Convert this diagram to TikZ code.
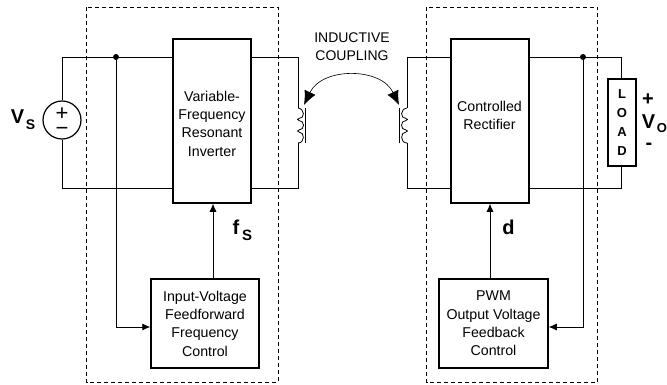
\documentclass[tikz,border=0pt]{standalone}
\usepackage{fontspec}
\setmainfont{Liberation Sans}
\usetikzlibrary{arrows.meta}
\tikzset{%
  wire/.style={line width=0.8pt,line join=miter},
  block/.style={draw,line width=1.5pt,align=center,inner sep=0pt,font=\fontsize{14.2}{18.3}\selectfont},
  blocktext/.style={align=center,inner sep=0pt,font=\fontsize{14.2}{18.3}\selectfont},
  group/.style={draw,line width=0.8pt,dash pattern=on 4pt off 3pt},
  feed/.style={wire,-{Latex[length=8pt,width=7pt]}},
  joint/.style={circle,fill,inner sep=0pt,minimum size=6pt},
  coupling/.style={line width=0.6pt,{Latex[length=14pt,width=12pt]}-{Latex[length=14pt,width=12pt]}},
  caption/.style={font=\fontsize{14}{18}\selectfont,align=center},
  symbol/.style={font=\bfseries\fontsize{#1}{#1}\selectfont,inner sep=0pt},
  symbol/.default=20,
  polarity/.style={inner sep=0pt,align=center,font=\fontsize{22}{14.5}\selectfont}
}
\NewDocumentCommand\coilWinding{}{
  \draw[wire] (0,0) .. controls (7,1) and (7,10.5) .. (1,10.5)
    .. controls (-1,10.5) and (-1,12.5) .. (1,12.5)
    .. controls (7,12.5) and (7,22) .. (1,22)
    .. controls (-1,22) and (-1,24) .. (1,24)
    .. controls (7,24) and (7,35) .. (0,35);
  \draw[wire] (7.6,0) -- (7.6,35);
}
\begin{document}
\begin{tikzpicture}[x=1pt,y=-1pt]
  \useasboundingbox (0,0) rectangle (667,385);
  % Groups
  \draw[group] (86.5,7.5) rectangle (278,382);
  \draw[group] (426.5,7.5) rectangle (597.5,382);
  % Blocks
  \node[block,minimum width=78pt,minimum height=164pt] (inverter) at (212,121) {};
  \node[blocktext] (invertertext) at (212,123.5) {Variable-\\Frequency\\Resonant\\Inverter};
  \node[block,minimum width=78pt,minimum height=164pt] (rectifier) at (490,121) {};
  \node[blocktext] (rectifiertext) at (489.5,115.5) {Controlled\\Rectifier};
  \node[block,minimum width=108pt,minimum height=89pt] (inctrl) at (205,323.5) {Input-Voltage\\Feedforward\\Frequency\\Control};
  \node[block,minimum width=109pt,minimum height=89pt] (outctrl) at (493.5,323.5) {PWM\\Output Voltage\\Feedback\\Control};
  \node[block,minimum width=28pt,minimum height=87pt,font=\bfseries\fontsize{13}{18.7}\selectfont] (load) at (622,122.5) {L\\O\\A\\D};
  \node[draw,circle,line width=1.2pt,minimum size=38pt,inner sep=0pt] (source) at (62,120) {};
  \node[polarity] (srcsign) at (62,121.5) {+\\−};
  % Rail corners
  \coordinate (t0) at (62,57);
  \coordinate (b0) at (62,188);
  \coordinate (t1) at (298,57);
  \coordinate (b1) at (298,188);
  \coordinate (c1) at (298,108);
  \coordinate (d1) at (298,143);
  \coordinate (t2) at (407,57);
  \coordinate (b2) at (407,188);
  \coordinate (c2) at (407,108);
  \coordinate (d2) at (407,143);
  \coordinate (t3) at (621,57);
  \coordinate (b3) at (621,188);
  \node[joint] (jin) at (116,57) {};
  \node[joint] (jout) at (583,57) {};
  % Rails
  \draw[wire] (source) -- (t0) -- (jin) -- (t0 -| inverter.west);
  \draw[wire] (source) -- (b0) -- (b0 -| inverter.west);
  \draw[wire] (t1 -| inverter.east) -- (t1) -- (c1);
  \draw[wire] (d1) -- (b1) -- (b1 -| inverter.east);
  \draw[wire] (t2 -| rectifier.west) -- (t2) -- (c2);
  \draw[wire] (d2) -- (b2) -- (b2 -| rectifier.west);
  \draw[wire] (t3 -| rectifier.east) -- (jout) -- (t3) -- (load.north -| t3);
  \draw[wire] (load.south -| b3) -- (b3) -- (b3 -| rectifier.east);
  % Windings
  \begin{scope}[shift={(c1)}]\coilWinding\end{scope}
  \begin{scope}[shift={(c2)},xscale=-1]\coilWinding\end{scope}
  % Control paths
  \coordinate (k0) at (116,327);
  \coordinate (k1) at (583,327);
  \draw[feed] (jin) -- (k0) -- (k0 -| inctrl.west);
  \draw[feed] (jout) -- (k1) -- (k1 -| outctrl.east);
  \coordinate (u0) at (213,279);
  \coordinate (u1) at (490,279);
  \draw[feed] (u0) -- (u0 |- inverter.south);
  \draw[feed] (u1) -- (u1 |- rectifier.south);
  % Coupling
  \coordinate (a0) at (304,105);
  \coordinate (a1) at (399,105);
  \draw[coupling] (a0) .. controls (322,67) and (381,67) .. (a1);
  \node[caption] (cpl) at (352,47) {INDUCTIVE\\COUPLING};
  % Labels
  \node[symbol] (vs) at (17.5,117) {V};
  \node[symbol=14] (vss) at (30.5,124.5) {S};
  \node[symbol] (fs) at (236,227.5) {f};
  \node[symbol=15] (fss) at (247,235) {S};
  \node[symbol] (dlab) at (508.5,227.5) {d};
  \node[symbol] (vplus) at (648,100) {+};
  \node[symbol] (vo) at (648.5,122) {V};
  \node[symbol=13] (vos) at (662,128.5) {O};
  \node[symbol] (vminus) at (649,146) {-};
\end{tikzpicture}
\end{document}
